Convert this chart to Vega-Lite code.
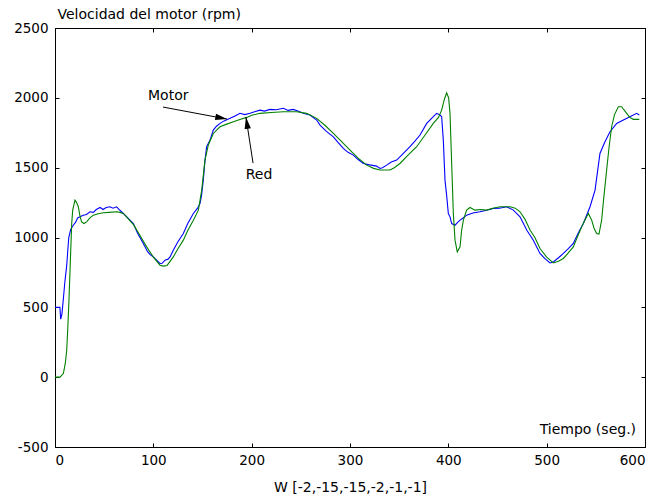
{
  "$schema": "https://vega.github.io/schema/vega-lite/v6.json",
  "autosize": {"type": "none"},
  "padding": {"left": 55, "top": 28, "right": 15, "bottom": 53},
  "width": 590,
  "height": 419,
  "background": "white",
  "config": {
    "view": {"stroke": "#000000", "strokeWidth": 1},
    "axis": {
      "labelFont": "DejaVu Sans",
      "labelFontSize": 13.5,
      "labelColor": "#000000",
      "titleFont": "DejaVu Sans",
      "titleFontSize": 14,
      "titleFontWeight": "normal",
      "titleColor": "#000000",
      "tickColor": "#000000",
      "tickSize": -4,
      "domainColor": "#000000",
      "grid": false
    }
  },
  "datasets": {
    "series": [
      {"t":0,"v":500,"s":"Motor"},{"t":5,"v":500,"s":"Motor"},{"t":5.8,"v":415,"s":"Motor"},{"t":7,"v":450,"s":"Motor"},{"t":8.5,"v":560,"s":"Motor"},{"t":10,"v":680,"s":"Motor"},{"t":11.9,"v":800,"s":"Motor"},{"t":14,"v":1000,"s":"Motor"},{"t":16,"v":1060,"s":"Motor"},{"t":18.6,"v":1088,"s":"Motor"},{"t":21,"v":1110,"s":"Motor"},{"t":23,"v":1140,"s":"Motor"},{"t":25.4,"v":1148,"s":"Motor"},{"t":28.8,"v":1160,"s":"Motor"},{"t":32,"v":1165,"s":"Motor"},{"t":35.6,"v":1184,"s":"Motor"},{"t":39,"v":1180,"s":"Motor"},{"t":42,"v":1200,"s":"Motor"},{"t":45.8,"v":1215,"s":"Motor"},{"t":49,"v":1200,"s":"Motor"},{"t":52,"v":1215,"s":"Motor"},{"t":55.9,"v":1220,"s":"Motor"},{"t":59,"v":1210,"s":"Motor"},{"t":62.7,"v":1220,"s":"Motor"},{"t":66,"v":1195,"s":"Motor"},{"t":69.5,"v":1172,"s":"Motor"},{"t":74,"v":1140,"s":"Motor"},{"t":79.7,"v":1100,"s":"Motor"},{"t":84,"v":1030,"s":"Motor"},{"t":89.8,"v":957,"s":"Motor"},{"t":94,"v":900,"s":"Motor"},{"t":97,"v":875,"s":"Motor"},{"t":100,"v":861,"s":"Motor"},{"t":103,"v":840,"s":"Motor"},{"t":106.8,"v":814,"s":"Motor"},{"t":109,"v":815,"s":"Motor"},{"t":111.9,"v":838,"s":"Motor"},{"t":115,"v":845,"s":"Motor"},{"t":117,"v":861,"s":"Motor"},{"t":120.3,"v":909,"s":"Motor"},{"t":125,"v":970,"s":"Motor"},{"t":130.5,"v":1029,"s":"Motor"},{"t":135,"v":1100,"s":"Motor"},{"t":140.7,"v":1172,"s":"Motor"},{"t":145,"v":1210,"s":"Motor"},{"t":147.5,"v":1244,"s":"Motor"},{"t":149,"v":1300,"s":"Motor"},{"t":150.8,"v":1411,"s":"Motor"},{"t":152.5,"v":1550,"s":"Motor"},{"t":154.2,"v":1650,"s":"Motor"},{"t":157.6,"v":1697,"s":"Motor"},{"t":161,"v":1769,"s":"Motor"},{"t":164,"v":1795,"s":"Motor"},{"t":167.8,"v":1817,"s":"Motor"},{"t":172,"v":1835,"s":"Motor"},{"t":178,"v":1853,"s":"Motor"},{"t":183,"v":1870,"s":"Motor"},{"t":188.1,"v":1889,"s":"Motor"},{"t":193,"v":1880,"s":"Motor"},{"t":198.3,"v":1889,"s":"Motor"},{"t":203,"v":1900,"s":"Motor"},{"t":208.5,"v":1912,"s":"Motor"},{"t":213,"v":1905,"s":"Motor"},{"t":218.6,"v":1917,"s":"Motor"},{"t":225,"v":1915,"s":"Motor"},{"t":232.2,"v":1925,"s":"Motor"},{"t":237,"v":1910,"s":"Motor"},{"t":242.3,"v":1917,"s":"Motor"},{"t":247,"v":1905,"s":"Motor"},{"t":252.5,"v":1889,"s":"Motor"},{"t":259.3,"v":1877,"s":"Motor"},{"t":266.1,"v":1841,"s":"Motor"},{"t":269.5,"v":1805,"s":"Motor"},{"t":276,"v":1760,"s":"Motor"},{"t":283.1,"v":1721,"s":"Motor"},{"t":288,"v":1680,"s":"Motor"},{"t":293.2,"v":1638,"s":"Motor"},{"t":298,"v":1610,"s":"Motor"},{"t":303.4,"v":1590,"s":"Motor"},{"t":308,"v":1560,"s":"Motor"},{"t":313.6,"v":1530,"s":"Motor"},{"t":320,"v":1520,"s":"Motor"},{"t":327.1,"v":1511,"s":"Motor"},{"t":330.5,"v":1494,"s":"Motor"},{"t":333,"v":1500,"s":"Motor"},{"t":337.3,"v":1518,"s":"Motor"},{"t":342,"v":1540,"s":"Motor"},{"t":347.5,"v":1554,"s":"Motor"},{"t":354,"v":1600,"s":"Motor"},{"t":361,"v":1650,"s":"Motor"},{"t":366,"v":1690,"s":"Motor"},{"t":371.2,"v":1734,"s":"Motor"},{"t":378,"v":1817,"s":"Motor"},{"t":384,"v":1860,"s":"Motor"},{"t":388.1,"v":1889,"s":"Motor"},{"t":391.5,"v":1877,"s":"Motor"},{"t":393.2,"v":1865,"s":"Motor"},{"t":394.9,"v":1697,"s":"Motor"},{"t":396.6,"v":1411,"s":"Motor"},{"t":398.3,"v":1300,"s":"Motor"},{"t":400,"v":1172,"s":"Motor"},{"t":401.7,"v":1148,"s":"Motor"},{"t":403.4,"v":1100,"s":"Motor"},{"t":406.8,"v":1088,"s":"Motor"},{"t":409,"v":1105,"s":"Motor"},{"t":411.9,"v":1124,"s":"Motor"},{"t":415,"v":1140,"s":"Motor"},{"t":418.6,"v":1160,"s":"Motor"},{"t":425,"v":1175,"s":"Motor"},{"t":432.2,"v":1184,"s":"Motor"},{"t":439,"v":1195,"s":"Motor"},{"t":445.8,"v":1208,"s":"Motor"},{"t":452,"v":1210,"s":"Motor"},{"t":459.3,"v":1220,"s":"Motor"},{"t":466.1,"v":1196,"s":"Motor"},{"t":472.9,"v":1148,"s":"Motor"},{"t":479.7,"v":1053,"s":"Motor"},{"t":486.4,"v":981,"s":"Motor"},{"t":493.2,"v":886,"s":"Motor"},{"t":498,"v":850,"s":"Motor"},{"t":503.4,"v":818,"s":"Motor"},{"t":506.8,"v":825,"s":"Motor"},{"t":512,"v":855,"s":"Motor"},{"t":517,"v":886,"s":"Motor"},{"t":522,"v":920,"s":"Motor"},{"t":527.1,"v":957,"s":"Motor"},{"t":532,"v":1030,"s":"Motor"},{"t":537.3,"v":1100,"s":"Motor"},{"t":544.1,"v":1220,"s":"Motor"},{"t":549.2,"v":1339,"s":"Motor"},{"t":554.2,"v":1602,"s":"Motor"},{"t":559.3,"v":1685,"s":"Motor"},{"t":564.4,"v":1757,"s":"Motor"},{"t":571.2,"v":1817,"s":"Motor"},{"t":578,"v":1841,"s":"Motor"},{"t":584.7,"v":1865,"s":"Motor"},{"t":591.5,"v":1889,"s":"Motor"},{"t":594.2,"v":1877,"s":"Motor"},
      {"t":0,"v":0,"s":"Red"},{"t":5,"v":0,"s":"Red"},{"t":8.5,"v":26,"s":"Red"},{"t":10.5,"v":100,"s":"Red"},{"t":11.9,"v":193,"s":"Red"},{"t":13,"v":350,"s":"Red"},{"t":14.2,"v":551,"s":"Red"},{"t":15.2,"v":750,"s":"Red"},{"t":16,"v":909,"s":"Red"},{"t":17,"v":1100,"s":"Red"},{"t":18,"v":1196,"s":"Red"},{"t":20.3,"v":1268,"s":"Red"},{"t":22,"v":1250,"s":"Red"},{"t":23.7,"v":1220,"s":"Red"},{"t":25.5,"v":1150,"s":"Red"},{"t":27.1,"v":1112,"s":"Red"},{"t":29.5,"v":1100,"s":"Red"},{"t":32.2,"v":1112,"s":"Red"},{"t":35.5,"v":1140,"s":"Red"},{"t":39,"v":1160,"s":"Red"},{"t":44,"v":1170,"s":"Red"},{"t":49.2,"v":1177,"s":"Red"},{"t":55,"v":1180,"s":"Red"},{"t":62.7,"v":1184,"s":"Red"},{"t":66,"v":1180,"s":"Red"},{"t":69.5,"v":1172,"s":"Red"},{"t":75,"v":1130,"s":"Red"},{"t":80,"v":1090,"s":"Red"},{"t":86,"v":1020,"s":"Red"},{"t":93.2,"v":933,"s":"Red"},{"t":100,"v":860,"s":"Red"},{"t":106.8,"v":802,"s":"Red"},{"t":110.2,"v":795,"s":"Red"},{"t":114,"v":800,"s":"Red"},{"t":120.3,"v":861,"s":"Red"},{"t":125,"v":920,"s":"Red"},{"t":130.5,"v":981,"s":"Red"},{"t":135,"v":1050,"s":"Red"},{"t":140.7,"v":1124,"s":"Red"},{"t":145.8,"v":1196,"s":"Red"},{"t":149.2,"v":1339,"s":"Red"},{"t":152.5,"v":1554,"s":"Red"},{"t":155.9,"v":1662,"s":"Red"},{"t":161,"v":1745,"s":"Red"},{"t":167.8,"v":1793,"s":"Red"},{"t":174,"v":1810,"s":"Red"},{"t":181.4,"v":1829,"s":"Red"},{"t":188,"v":1845,"s":"Red"},{"t":194.9,"v":1860,"s":"Red"},{"t":200,"v":1875,"s":"Red"},{"t":208.5,"v":1889,"s":"Red"},{"t":220,"v":1895,"s":"Red"},{"t":232.2,"v":1900,"s":"Red"},{"t":245.8,"v":1900,"s":"Red"},{"t":255.9,"v":1889,"s":"Red"},{"t":266.1,"v":1853,"s":"Red"},{"t":275,"v":1800,"s":"Red"},{"t":283.1,"v":1745,"s":"Red"},{"t":291,"v":1690,"s":"Red"},{"t":300,"v":1626,"s":"Red"},{"t":308,"v":1570,"s":"Red"},{"t":317,"v":1518,"s":"Red"},{"t":324,"v":1495,"s":"Red"},{"t":330.5,"v":1483,"s":"Red"},{"t":340.7,"v":1483,"s":"Red"},{"t":345,"v":1500,"s":"Red"},{"t":350.8,"v":1530,"s":"Red"},{"t":359,"v":1590,"s":"Red"},{"t":367.8,"v":1650,"s":"Red"},{"t":376,"v":1730,"s":"Red"},{"t":384.7,"v":1817,"s":"Red"},{"t":390,"v":1860,"s":"Red"},{"t":393.2,"v":1912,"s":"Red"},{"t":396,"v":1990,"s":"Red"},{"t":398.3,"v":2036,"s":"Red"},{"t":400.3,"v":2000,"s":"Red"},{"t":401.7,"v":1889,"s":"Red"},{"t":403.4,"v":1530,"s":"Red"},{"t":405.1,"v":1172,"s":"Red"},{"t":406.8,"v":981,"s":"Red"},{"t":409.1,"v":897,"s":"Red"},{"t":411.9,"v":933,"s":"Red"},{"t":413.5,"v":1050,"s":"Red"},{"t":415.3,"v":1124,"s":"Red"},{"t":418.6,"v":1196,"s":"Red"},{"t":422,"v":1215,"s":"Red"},{"t":427.1,"v":1196,"s":"Red"},{"t":433,"v":1200,"s":"Red"},{"t":439,"v":1196,"s":"Red"},{"t":445,"v":1210,"s":"Red"},{"t":452.5,"v":1220,"s":"Red"},{"t":462.7,"v":1220,"s":"Red"},{"t":468,"v":1210,"s":"Red"},{"t":472.9,"v":1184,"s":"Red"},{"t":478,"v":1130,"s":"Red"},{"t":483.1,"v":1053,"s":"Red"},{"t":488,"v":1000,"s":"Red"},{"t":493.2,"v":921,"s":"Red"},{"t":500,"v":860,"s":"Red"},{"t":506.8,"v":818,"s":"Red"},{"t":512,"v":830,"s":"Red"},{"t":517,"v":850,"s":"Red"},{"t":522,"v":890,"s":"Red"},{"t":527.1,"v":933,"s":"Red"},{"t":531,"v":1000,"s":"Red"},{"t":535.6,"v":1076,"s":"Red"},{"t":540,"v":1140,"s":"Red"},{"t":542.4,"v":1172,"s":"Red"},{"t":545.8,"v":1124,"s":"Red"},{"t":548,"v":1070,"s":"Red"},{"t":550.8,"v":1029,"s":"Red"},{"t":553.2,"v":1024,"s":"Red"},{"t":555.9,"v":1124,"s":"Red"},{"t":558,"v":1280,"s":"Red"},{"t":561,"v":1483,"s":"Red"},{"t":563.5,"v":1650,"s":"Red"},{"t":566.1,"v":1793,"s":"Red"},{"t":569,"v":1880,"s":"Red"},{"t":572.9,"v":1936,"s":"Red"},{"t":576.3,"v":1936,"s":"Red"},{"t":578.5,"v":1915,"s":"Red"},{"t":581.4,"v":1889,"s":"Red"},{"t":584.5,"v":1860,"s":"Red"},{"t":588.1,"v":1846,"s":"Red"},{"t":594.2,"v":1846,"s":"Red"}
    ],
    "arrows": [
      {"x":109.8,"y":1934,"x2":174.9,"y2":1848,"angle":100.6},
      {"x":201.4,"y":1533,"x2":194.2,"y2":1862,"angle":351.3}
    ],
    "labels": [
      {"x":94.6,"y":2013,"label":"Motor"},
      {"x":193.9,"y":1447,"label":"Red"}
    ],
    "rlabels": [
      {"x":590.9,"y":-380,"label":"Tiempo (seg.)"}
    ]
  },
  "layer": [
    {
      "data": {"name": "series"},
      "mark": {"type": "line", "strokeWidth": 1.1, "clip": true},
      "encoding": {
        "x": {"field": "t", "type": "quantitative",
              "scale": {"domain": [0, 600], "nice": false, "zero": false},
              "axis": {"orient": "bottom", "values": [0,100,200,300,400,500,600], "labelExpr": "'' + datum.value", "title": "W [-2,-15,-15,-2,-1,-1]", "labelPadding": 10, "titlePadding": 14, "domain": false}},
        "y": {"field": "v", "type": "quantitative",
              "scale": {"domain": [-500, 2500], "nice": false, "zero": false},
              "axis": {"orient": "left", "values": [-500,0,500,1000,1500,2000,2500], "labelExpr": "'' + datum.value", "title": "Velocidad del motor (rpm)", "titleAngle": 0, "titleAlign": "left", "titleBaseline": "middle", "titleX": 2, "titleY": -14, "labelPadding": 11, "domain": false}},
        "color": {"field": "s", "type": "nominal",
                  "scale": {"domain": ["Motor", "Red"], "range": ["#0000ff", "#008000"]},
                  "legend": null}
      }
    },
    {
      "data": {"name": "arrows"},
      "mark": {"type": "rule", "color": "#000000", "strokeWidth": 1},
      "encoding": {
        "x": {"field": "x", "type": "quantitative", "axis": {"orient": "top", "values": [0,100,200,300,400,500,600], "labels": false, "title": null, "domain": false}},
        "y": {"field": "y", "type": "quantitative", "axis": {"orient": "right", "values": [-500,0,500,1000,1500,2000,2500], "labels": false, "title": null, "domain": false}},
        "x2": {"field": "x2"},
        "y2": {"field": "y2"}
      }
    },
    {
      "data": {"name": "arrows"},
      "mark": {"type": "point", "shape": "M0,0L-0.27,1L0.27,1Z", "filled": true, "color": "#000000", "opacity": 1, "size": 550},
      "encoding": {
        "x": {"field": "x2", "type": "quantitative", "axis": null},
        "y": {"field": "y2", "type": "quantitative", "axis": null},
        "angle": {"field": "angle", "type": "quantitative", "scale": null}
      }
    },
    {
      "data": {"name": "labels"},
      "mark": {"type": "text", "font": "DejaVu Sans", "fontSize": 14, "color": "#000000", "baseline": "middle", "align": "left"},
      "encoding": {
        "x": {"field": "x", "type": "quantitative", "axis": null},
        "y": {"field": "y", "type": "quantitative", "axis": null},
        "text": {"field": "label"}
      }
    },
    {
      "data": {"name": "rlabels"},
      "mark": {"type": "text", "font": "DejaVu Sans", "fontSize": 14, "color": "#000000", "baseline": "middle", "align": "right"},
      "encoding": {
        "x": {"field": "x", "type": "quantitative", "axis": null},
        "y": {"field": "y", "type": "quantitative", "axis": null},
        "text": {"field": "label"}
      }
    }
  ],
  "resolve": {"axis": {"x": "independent", "y": "independent"}}
}
